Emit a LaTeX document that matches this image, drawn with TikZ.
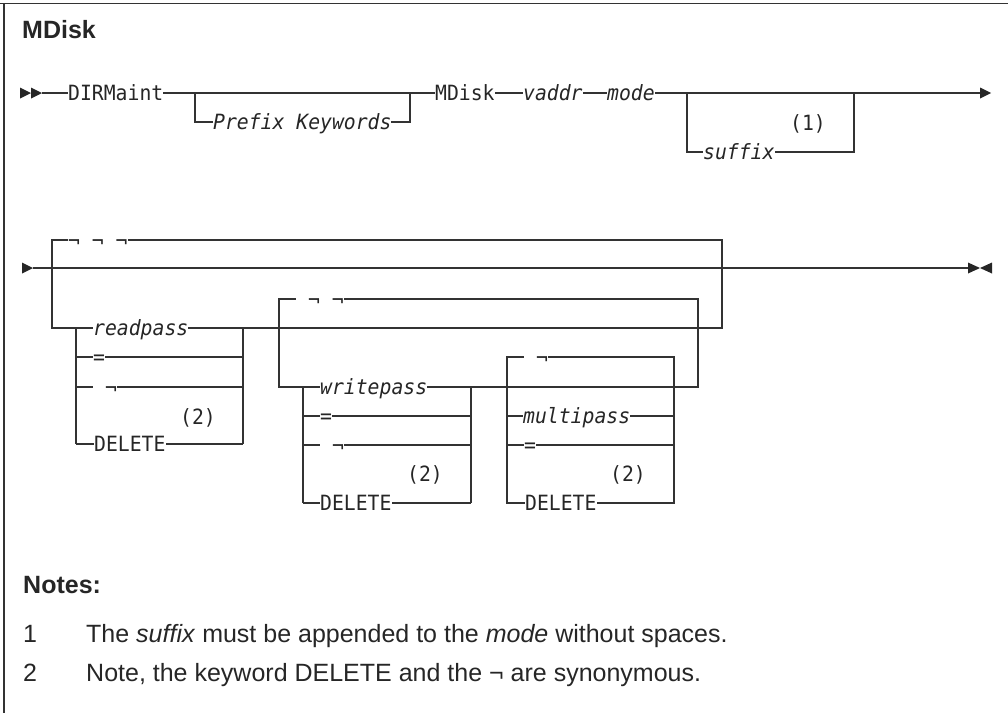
\documentclass[tikz,border=0pt]{standalone}
\usepackage{fontspec}
\setmainfont{Liberation Sans}
\newfontfamily\railmono[FakeStretch=0.94]{DejaVu Sans Mono}
\begin{document}
\begin{tikzpicture}[x=1pt,y=-1pt,
  rail/.style={line width=1.2pt, draw=black!80},
  frame/.style={line width=1.8pt, draw=black!80},
  kw/.style={font=\railmono\fontsize{21}{22}\selectfont, anchor=base west, inner sep=0pt, fill=white, text height=15pt, text depth=5pt, text=black!85},
  var/.style={kw, font=\railmono\itshape\fontsize{21}{22}\selectfont},
  fnote/.style={font=\railmono\fontsize{21}{22}\selectfont, anchor=base west, inner sep=0pt, text=black!85},
  head/.style={font=\bfseries\fontsize{25}{30}\selectfont, anchor=base west, inner sep=0pt, text=black!85},
  notetext/.style={font=\fontsize{25}{30}\selectfont, anchor=base west, inner sep=0pt, text=black!85},
  tip/.style={fill=black!85}]
\useasboundingbox (0,0) rectangle (1008,713);
% frame
\draw[frame] (0,3.5) -- (1008,3.5);
\draw[frame] (4,3.5) -- (4,713);
\node[head] (title) at (22,38) {MDisk};

% ---------------- Row 1 ----------------
\coordinate (r1s) at (42,93);
\coordinate (r1e) at (980,93);
\fill[tip] (20,87.5) -- (31,93) -- (20,98.5) -- cycle;
\fill[tip] (31,87.5) -- (42,93) -- (31,98.5) -- cycle;
\draw[rail] (r1s) -- (r1e);
\fill[tip] (980,87.5) -- (991,93) -- (980,98.5) -- cycle;
\coordinate (pk1) at (195,93); \coordinate (pk2) at (195,122);
\coordinate (pk3) at (410,122); \coordinate (pk4) at (410,93);
\draw[rail] (pk1) -- (pk2) -- (pk3) -- (pk4);
\coordinate (sf1) at (687,93); \coordinate (sf2) at (687,152);
\coordinate (sf3) at (854,152); \coordinate (sf4) at (854,93);
\draw[rail] (sf1) -- (sf2) -- (sf3) -- (sf4);
\node[kw] (dirm) at (68,100) {DIRMaint};
\node[var] (pfx) at (213,129) {Prefix Keywords};
\node[kw] (mdisk) at (435,100) {MDisk};
\node[var] (vaddr) at (523,100) {vaddr};
\node[var] (mode) at (607,100) {mode};
\node[var] (suffix) at (703,159) {suffix};
\node[fnote] (fn1) at (790,130) {(1)};

% ---------------- Row 2 ----------------
\coordinate (r2s) at (33,268);
\coordinate (r2e) at (968,268);
\fill[tip] (22,262.5) -- (33,268) -- (22,273.5) -- cycle;
\draw[rail] (r2s) -- (r2e);
\fill[tip] (968,262.5) -- (980,268) -- (968,273.5) -- cycle;
\fill[tip] (992,262.5) -- (980,268) -- (992,273.5) -- cycle;

% outer loop (readpass level)
\coordinate (o1) at (52,328); \coordinate (o2) at (52,240);
\coordinate (o3) at (722,240); \coordinate (o4) at (722,328);
\draw[rail] (o1) -- (o2) -- (o3) -- (o4) -- cycle;
\node[kw] (nnn) at (68,248) {¬ ¬ ¬};

% readpass choices
\draw[rail] (76,328) -- (76,444) (243,328) -- (243,444);
\draw[rail] (76,357) -- (243,357);
\draw[rail] (76,387) -- (243,387);
\draw[rail] (76,444) -- (243,444);
\node[var] (rp) at (93,335) {readpass};
\node[kw] (rpeq) at (93,364) {=};
\node[kw] (rpnot) at (93,395) {\ ¬\ };
\node[fnote] (rpfn) at (180,424) {(2)};
\node[kw] (rpdel) at (94,451) {DELETE};

% writepass loop
\coordinate (w1) at (279,387); \coordinate (w2) at (279,299);
\coordinate (w3) at (698,299); \coordinate (w4) at (698,387);
\draw[rail] (w1) -- (w2) -- (w3) -- (w4) -- cycle;
\node[kw] (wnn) at (296,307) {\ ¬ ¬\ };

% writepass choices
\draw[rail] (303,387) -- (303,503) (471,387) -- (471,503);
\draw[rail] (303,416) -- (471,416);
\draw[rail] (303,445) -- (471,445);
\draw[rail] (303,503) -- (471,503);
\node[var] (wp) at (320,394) {writepass};
\node[kw] (wpeq) at (320,423) {=};
\node[kw] (wpnot) at (320,453) {\ ¬\ };
\node[fnote] (wpfn) at (407,481) {(2)};
\node[kw] (wpdel) at (320,510) {DELETE};

% multipass choices
\draw[rail] (507,357) -- (674,357) -- (674,503) -- (507,503) -- cycle;
\draw[rail] (507,416) -- (674,416);
\draw[rail] (507,445) -- (674,445);
\node[kw] (mpnot) at (524,365) {\ ¬\ };
\node[var] (mp) at (523,423) {multipass};
\node[kw] (mpeq) at (524,452) {=};
\node[fnote] (mpfn) at (610,481) {(2)};
\node[kw] (mpdel) at (525,510) {DELETE};

% ---------------- Notes ----------------
\node[head] (notes) at (23,593) {Notes:};
\node[notetext] (n1) at (23,642) {1};
\node[notetext] (n1t) at (86,642) {The \textit{suffix} must be appended to the \textit{mode} without spaces.};
\node[notetext] (n2) at (23,681) {2};
\node[notetext] (n2t) at (86,681) {Note, the keyword DELETE and the ¬ are synonymous.};
\end{tikzpicture}
\end{document}
